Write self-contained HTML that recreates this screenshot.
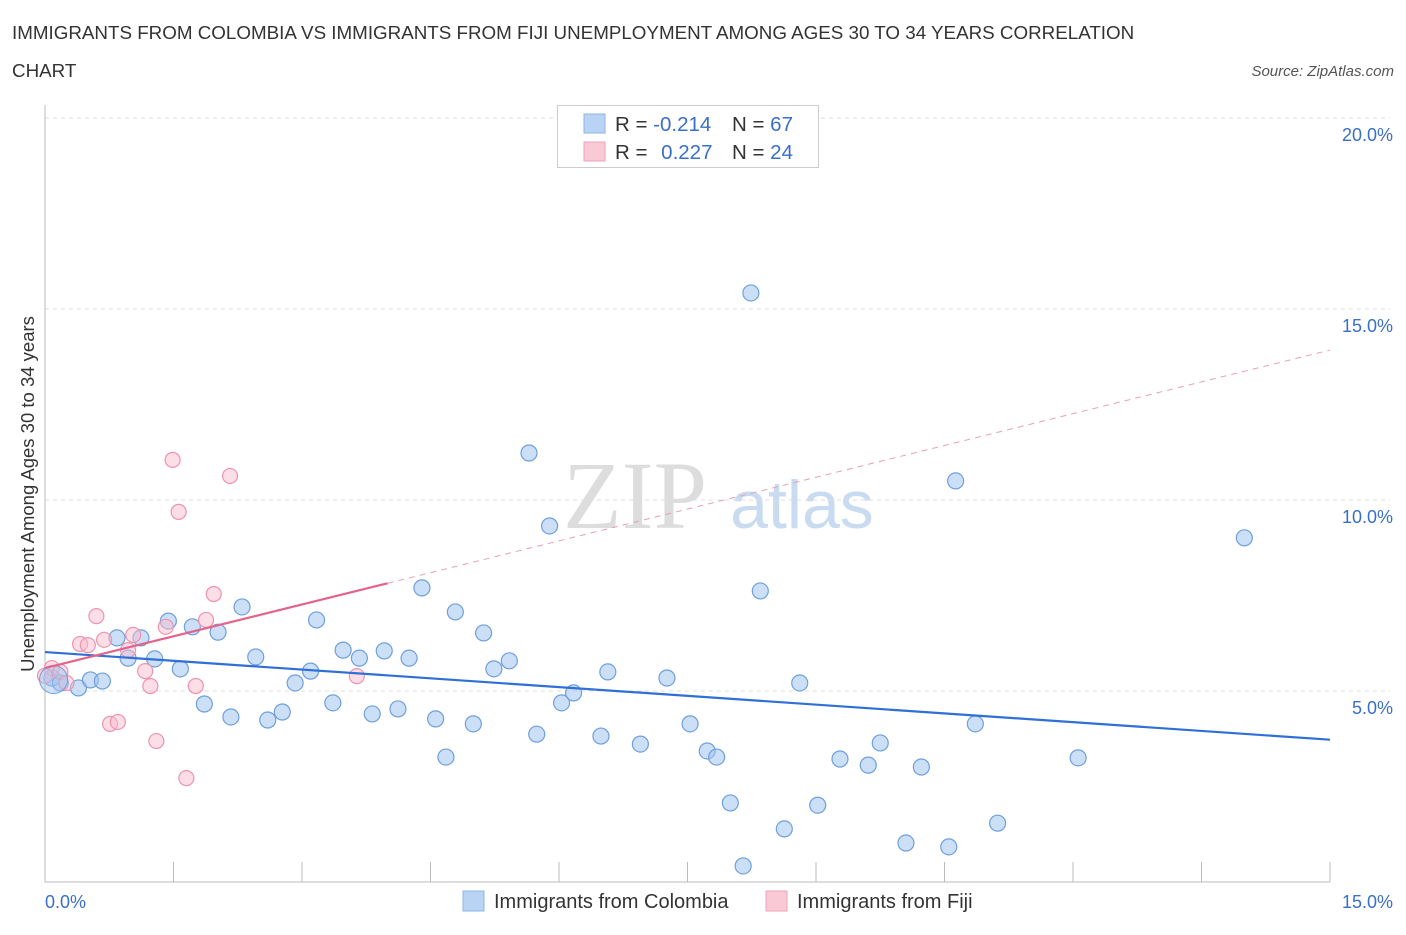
<!DOCTYPE html>
<html><head><meta charset="utf-8"><style>
body{margin:0;background:#fff;font-family:"Liberation Sans",sans-serif}
svg text{font-family:"Liberation Sans",sans-serif}
</style></head><body>
<svg id="c" width="1406" height="930" xmlns="http://www.w3.org/2000/svg">
<text x="12" y="39" font-size="18.8" fill="#333">IMMIGRANTS FROM COLOMBIA VS IMMIGRANTS FROM FIJI UNEMPLOYMENT AMONG AGES 30 TO 34 YEARS CORRELATION</text>
<text x="12" y="77" font-size="18.8" fill="#333">CHART</text>
<text x="1394" y="76" font-size="15" fill="#555" text-anchor="end" font-style="italic">Source: ZipAtlas.com</text>
<text x="635" y="528" font-size="96" fill="#ddd" text-anchor="middle" style="font-family:'Liberation Serif',serif">ZIP</text>
<text x="802" y="528" font-size="68" fill="#c9dbf0" text-anchor="middle">atlas</text>
<g id="grid"></g><g id="marks"></g>
<text transform="translate(34,494) rotate(-90)" font-size="18.5" fill="#333" text-anchor="middle">Unemployment Among Ages 30 to 34 years</text>
<g>
<rect x="557.5" y="105.5" width="261" height="62" fill="#fff" stroke="#ccc"/>
<rect x="584" y="114" width="21" height="19" fill="#b9d3f5" stroke="#8fb5e8"/>
<rect x="584" y="142" width="21" height="19" fill="#f9c9d6" stroke="#eea3b8"/>
<text x="615" y="131" font-size="20.5" fill="#333">R = <tspan fill="#3a6fc9">-0.214</tspan></text>
<text x="732" y="131" font-size="20.5" fill="#333">N = <tspan fill="#3a6fc9">67</tspan></text>
<text x="615" y="159" font-size="20.5" fill="#333">R = <tspan fill="#3a6fc9" dx="8">0.227</tspan></text>
<text x="732" y="159" font-size="20.5" fill="#333">N = <tspan fill="#3a6fc9">24</tspan></text>
</g>
<g>
<rect x="463" y="891" width="21" height="20" fill="#b9d3f5" stroke="#8fb5e8"/>
<text x="494" y="908" font-size="20" fill="#333">Immigrants from Colombia</text>
<rect x="766" y="891" width="21" height="20" fill="#f9c9d6" stroke="#eea3b8"/>
<text x="797" y="908" font-size="20" fill="#333">Immigrants from Fiji</text>
</g>
</svg>
<script>
const colX=[0.08,0.18,0.39,0.53,0.67,0.84,0.97,1.12,1.28,1.44,1.58,1.72,1.86,2.02,2.17,2.30,2.46,2.60,2.77,2.92,3.10,3.17,3.36,3.48,3.67,3.82,3.96,4.12,4.25,4.40,4.56,4.68,4.79,5.00,5.12,5.24,5.42,5.65,5.74,5.89,6.03,6.17,6.49,6.57,6.95,7.26,7.53,7.73,7.84,8.00,8.15,8.24,8.35,8.63,8.81,9.02,9.28,9.61,9.75,10.05,10.23,10.55,10.63,10.86,11.12,12.06,14.00];
const colY=[5.34,5.21,5.08,5.29,5.26,6.39,5.86,6.39,5.84,6.83,5.58,6.68,4.66,6.54,4.32,7.20,5.89,4.24,4.45,5.21,5.52,6.86,4.69,6.07,5.86,4.40,6.05,4.53,5.86,7.70,4.27,3.27,7.07,4.14,6.52,5.58,5.79,11.23,3.87,9.32,4.69,4.95,3.82,5.50,3.61,5.34,4.14,3.43,3.27,2.07,0.42,15.42,7.62,1.39,5.21,2.01,3.22,3.06,3.64,1.02,3.01,0.92,10.50,4.14,1.54,3.25,9.01];
const fijiX=[0.08,0.18,0.25,0.41,0.50,0.60,0.69,0.76,0.85,0.97,1.03,1.17,1.23,1.30,1.41,1.49,1.56,1.65,1.76,1.88,1.97,2.16,3.64,0.0];
const fijiY=[5.60,5.50,5.21,6.23,6.20,6.96,6.34,4.14,4.19,6.07,6.47,5.52,5.13,3.69,6.68,11.05,9.69,2.72,5.13,6.86,7.54,10.63,5.39,5.40];
const colTrend=[6.02,-0.153];
const fijiTrend=[5.60,0.555];
const yTicks=[5,10,15,20];
const yTickLabels=["5.0%","10.0%","15.0%","20.0%"];
const xTicks=[0,1.5,3,4.5,6,7.5,9,10.5,12,13.5,15];
const NS='http://www.w3.org/2000/svg';
const X=v=>45+v/15*1285, Y=v=>882-v*38.2;
function mk(p,t,a){const e=document.createElementNS(NS,t);for(const k in a)e.setAttribute(k,a[k]);p.appendChild(e);return e;}
const g=document.getElementById('grid'),m=document.getElementById('marks');
yTicks.forEach((t,i)=>{
 const l=mk(g,'line',{x1:45,x2:1390,y1:Y(t),y2:Y(t),stroke:'#ddd','stroke-dasharray':'4,4'});
 
 
 const tx=mk(g,'text',{x:1393,y:Y(t)+23,'font-size':18,fill:'#3a6fc9','text-anchor':'end'});tx.textContent=yTickLabels[i];
 
 
});
const ax=mk(g,'line',{x1:45,x2:1330,y1:882,y2:882,stroke:'#bbb'});


const ay=mk(g,'line',{x1:45,x2:45,y1:105,y2:882,stroke:'#bbb'});


xTicks.forEach(t=>{const l=mk(g,'line',{x1:X(t),x2:X(t),y1:862,y2:882,stroke:'#bbb'});
 
 });
[[0,'0.0%','start',45],[15,'15.0%','end',1393]].forEach(a=>{const tx=mk(g,'text',{x:a[3],y:908,'font-size':18,fill:'#3a6fc9','text-anchor':a[2]});tx.textContent=a[1];
 
 });
colX.forEach((x,i)=>{const c=mk(m,'circle',{cx:X(x),cy:Y(colY[i]),r:8,fill:'rgba(160,196,240,0.55)',stroke:'#6f9fdc','stroke-width':1.2});
 
 });
fijiX.forEach((x,i)=>{const c=mk(m,'circle',{cx:X(x),cy:Y(fijiY[i]),r:7.5,fill:'rgba(248,190,206,0.5)',stroke:'#ee93ae','stroke-width':1.2});
 
 });
const big=mk(m,'circle',{cx:X(0.1),cy:Y(5.3),r:14,fill:'rgba(160,196,240,0.45)',stroke:'#6f9fdc'});


const ct=mk(m,'line',{x1:X(0),y1:Y(colTrend[0]),x2:X(15),y2:Y(colTrend[0]+colTrend[1]*15),stroke:'#2f6fd6','stroke-width':2.2});


const fs=mk(m,'line',{x1:X(0),y1:Y(fijiTrend[0]),x2:X(4),y2:Y(fijiTrend[0]+fijiTrend[1]*4),stroke:'#e5628a','stroke-width':2.2});


const fd=mk(m,'line',{x1:X(4),y1:Y(fijiTrend[0]+fijiTrend[1]*4),x2:X(15),y2:Y(fijiTrend[0]+fijiTrend[1]*15),stroke:'#e8a0b6','stroke-width':1,'stroke-dasharray':'6,5'});


</script>
</body></html>
